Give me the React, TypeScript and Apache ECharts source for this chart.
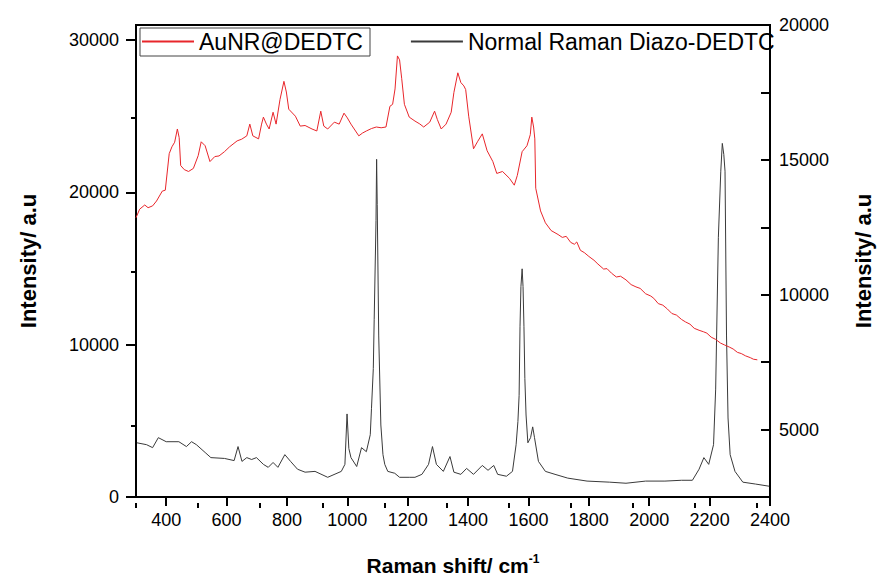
import React, { useEffect, useRef } from "react";
import * as echarts from "echarts";

// Raman shift (cm-1) and intensity for AuNR@DEDTC (left axis)
const redX = [300, 312, 329, 340, 355, 368, 387, 397, 410, 419, 428, 437, 443, 448, 460, 474, 490, 506, 516, 529, 545, 561, 575, 593, 610, 635, 650, 667, 677, 687, 706, 716, 722, 732, 741, 754, 764, 777, 790, 798, 806, 828, 844, 860, 883, 899, 912, 922, 935, 957, 973, 989, 1000, 1012, 1038, 1050, 1063, 1080, 1096, 1112, 1128, 1141, 1150, 1158, 1166, 1173, 1180, 1189, 1205, 1224, 1240, 1253, 1273, 1289, 1298, 1311, 1327, 1344, 1353, 1366, 1376, 1386, 1392, 1402, 1418, 1431, 1447, 1463, 1482, 1495, 1514, 1537, 1553, 1563, 1579, 1595, 1606, 1611, 1617, 1621, 1624, 1640, 1656, 1675, 1698, 1712, 1725, 1740, 1752, 1760, 1772, 1785, 1800, 1817, 1830, 1849, 1860, 1875, 1891, 1905, 1923, 1940, 1956, 1970, 1988, 2005, 2015, 2030, 2045, 2060, 2075, 2090, 2107, 2120, 2135, 2149, 2165, 2180, 2191, 2205, 2220, 2236, 2250, 2265, 2278, 2292, 2305, 2319, 2335, 2345, 2358];
const redY = [18340, 18900, 19180, 19000, 19120, 19440, 20090, 20150, 22550, 23000, 23300, 24170, 23600, 21770, 21500, 21380, 21580, 22420, 23330, 23070, 22030, 22360, 22400, 22680, 23000, 23390, 23500, 23720, 24490, 23720, 23520, 24490, 24950, 24490, 24170, 25270, 24490, 26110, 27300, 26600, 25470, 25010, 24360, 24400, 24170, 24040, 25340, 24360, 24170, 24620, 24490, 25210, 24900, 24490, 23720, 23900, 24040, 24200, 24300, 24250, 24300, 25660, 25790, 26800, 28970, 28710, 27500, 25790, 24950, 24690, 24500, 24300, 24620, 25340, 24800, 24170, 24490, 25270, 26570, 27860, 27220, 27000, 26760, 25010, 22870, 23330, 23850, 22740, 22030, 21250, 21380, 20930, 20480, 21120, 22680, 23070, 23800, 24950, 24300, 23520, 20280, 18790, 18010, 17500, 17240, 17050, 17120, 16720, 16600, 16750, 16200, 16050, 15800, 15550, 15300, 14970, 15000, 14700, 14450, 14500, 14260, 13950, 13800, 13700, 13350, 13200, 13050, 12700, 12600, 12350, 12050, 11950, 11660, 11500, 11350, 11080, 10950, 10850, 10760, 10500, 10350, 10110, 9980, 9850, 9720, 9500, 9420, 9270, 9150, 9050, 9010];

// Normal Raman Diazo-DEDTC (right axis)
const blackX = [303, 335, 355, 374, 400, 442, 467, 484, 500, 529, 548, 593, 625, 638, 651, 667, 683, 699, 722, 738, 754, 770, 793, 812, 835, 860, 893, 935, 980, 992, 999, 1005, 1012, 1031, 1047, 1063, 1076, 1080, 1086, 1089, 1095, 1097, 1099, 1104, 1111, 1118, 1124, 1134, 1157, 1173, 1205, 1224, 1247, 1269, 1282, 1295, 1318, 1340, 1353, 1376, 1395, 1418, 1447, 1466, 1485, 1498, 1527, 1547, 1559, 1565, 1569, 1572, 1575, 1579, 1582, 1585, 1588, 1592, 1598, 1607, 1614, 1620, 1633, 1656, 1688, 1730, 1794, 1869, 1923, 1988, 2052, 2107, 2143, 2165, 2181, 2197, 2213, 2220, 2229, 2237, 2242, 2247, 2251, 2256, 2261, 2268, 2284, 2310, 2352, 2397];
const blackY = [4510, 4440, 4330, 4700, 4550, 4550, 4370, 4550, 4440, 4150, 3960, 3930, 3850, 4370, 3820, 3960, 3890, 3960, 3710, 3600, 3780, 3600, 4070, 3820, 3530, 3420, 3450, 3230, 3450, 3710, 5580, 4300, 3960, 3630, 4330, 4180, 4810, 5790, 7260, 9090, 12750, 15020, 13340, 8470, 5170, 4070, 3710, 3450, 3380, 3230, 3230, 3230, 3340, 3710, 4370, 3710, 3450, 4000, 3420, 3340, 3560, 3340, 3670, 3490, 3670, 3340, 3270, 3450, 4440, 5300, 6270, 8830, 10300, 10960, 10300, 8830, 6900, 5540, 4510, 4700, 5100, 4700, 3820, 3450, 3340, 3200, 3090, 3050, 3010, 3090, 3090, 3120, 3120, 3530, 3960, 3710, 4440, 6500, 12130, 14580, 15610, 15200, 14580, 8470, 5430, 4070, 3450, 3050, 2980, 2900];

const xMajor = [400, 600, 800, 1000, 1200, 1400, 1600, 1800, 2000, 2200, 2400];
const xMinor = [300, 500, 700, 900, 1100, 1300, 1500, 1700, 1900, 2100, 2300];
const leftMajor = [0, 10000, 20000, 30000];
const leftMinor = [5000, 15000, 25000];
const rightMajor = [5000, 10000, 15000, 20000];
const rightTicks = [5000, 7500, 10000, 12500, 15000, 17500, 20000];

const FONT = "'Liberation Sans', Arial, sans-serif";
const RED = "#e8262b";
const DARK = "#3a3a3a";

export default function App() {
  const ref = useRef<HTMLDivElement>(null);
  useEffect(() => {
    const chart = echarts.init(ref.current!, null, { renderer: "svg" });
    const X = { min: 300, max: 2400 };
    const L = { min: 0, max: 31000 };
    const R = { min: 2500, max: 20000 };
    const box = { left: 136, right: 94, top: 25, bottom: 78, containLabel: false };
    const lineAx = { show: true, lineStyle: { color: "#000", width: 2 } };
    const tickStyle = { color: "#000", width: 2 };
    const plain = (v: number) => String(v);
    chart.setOption({
      animation: false,
      backgroundColor: "#fff",
      textStyle: { fontFamily: FONT },
      grid: [
        { ...box, show: true, borderColor: "#000", borderWidth: 2 },
        { ...box, show: false },
      ],
      legend: {
        left: 141,
        top: 30,
        padding: 0,
        itemWidth: 52,
        itemHeight: 14,
        itemGap: 47,
        itemStyle: { opacity: 0 },
        textStyle: { fontSize: 23, color: "#000", fontFamily: FONT },
        data: ["AuNR@DEDTC", "Normal Raman Diazo-DEDTC"],
      },
      graphic: [
        {
          type: "rect",
          shape: { x: 140, y: 28, width: 230, height: 28 },
          style: { fill: "none", stroke: "#444", lineWidth: 1 },
          z: 100,
        },
      ],
      xAxis: [
        {
          type: "value",
          gridIndex: 0,
          ...X,
          position: "bottom",
          name: "{a|Raman shift/ cm}{s|-1}",
          nameLocation: "middle",
          nameGap: 56,
          nameTextStyle: {
            rich: {
              a: { fontSize: 21, fontWeight: "bold", color: "#000", fontFamily: FONT, lineHeight: 25 },
              s: { fontSize: 12, fontWeight: "bold", color: "#000", fontFamily: FONT, lineHeight: 12, verticalAlign: "top" },
            },
          },
          axisLine: lineAx,
          axisTick: { show: true, length: 9, lineStyle: tickStyle, customValues: xMajor },
          axisLabel: { fontSize: 18, color: "#000", margin: 14, customValues: xMajor, formatter: plain },
          splitLine: { show: false },
        },
        {
          type: "value",
          gridIndex: 1,
          ...X,
          position: "bottom",
          axisLine: { show: false },
          axisTick: { show: true, length: 5, lineStyle: tickStyle, customValues: xMinor },
          axisLabel: { show: false },
          splitLine: { show: false },
        },
      ],
      yAxis: [
        {
          type: "value",
          gridIndex: 0,
          ...L,
          position: "left",
          name: "Intensity/ a.u",
          nameLocation: "middle",
          nameRotate: 90,
          nameGap: 97,
          nameTextStyle: { fontSize: 22, fontWeight: "bold", color: "#000", fontFamily: FONT },
          axisLine: lineAx,
          axisTick: { show: true, length: 10, lineStyle: tickStyle, customValues: leftMajor },
          axisLabel: { fontSize: 18, color: "#000", margin: 17, customValues: leftMajor, formatter: plain },
          splitLine: { show: false },
        },
        {
          type: "value",
          gridIndex: 0,
          ...R,
          position: "right",
          name: "Intensity/ a.u",
          nameLocation: "middle",
          nameRotate: 90,
          nameGap: 82,
          nameTextStyle: { fontSize: 22, fontWeight: "bold", color: "#000", fontFamily: FONT },
          axisLine: lineAx,
          axisTick: { show: true, inside: true, length: 9, lineStyle: tickStyle, customValues: rightTicks },
          axisLabel: { fontSize: 18, color: "#000", margin: 9, customValues: rightMajor, formatter: plain },
          splitLine: { show: false },
        },
        {
          type: "value",
          gridIndex: 1,
          ...L,
          position: "left",
          axisLine: { show: false },
          axisTick: { show: true, length: 5, lineStyle: tickStyle, customValues: leftMinor },
          axisLabel: { show: false },
          splitLine: { show: false },
        },
      ],
      series: [
        {
          name: "AuNR@DEDTC",
          type: "line",
          xAxisIndex: 0,
          yAxisIndex: 0,
          symbol: "none",
          showSymbol: false,
          data: redX.map((x, i) => [x, redY[i]]),
          lineStyle: { color: RED, width: 1 },
          itemStyle: { color: RED },
          z: 3,
        },
        {
          name: "Normal Raman Diazo-DEDTC",
          type: "line",
          xAxisIndex: 0,
          yAxisIndex: 1,
          symbol: "none",
          showSymbol: false,
          data: blackX.map((x, i) => [x, blackY[i]]),
          lineStyle: { color: DARK, width: 1 },
          itemStyle: { color: DARK },
          z: 2,
        },
      ],
    });
    return () => chart.dispose();
  }, []);
  return (
    <div
      ref={ref}
      style={{ position: "fixed", left: 0, top: 0, width: 882, height: 581, background: "#fff" }}
    />
  );
}
